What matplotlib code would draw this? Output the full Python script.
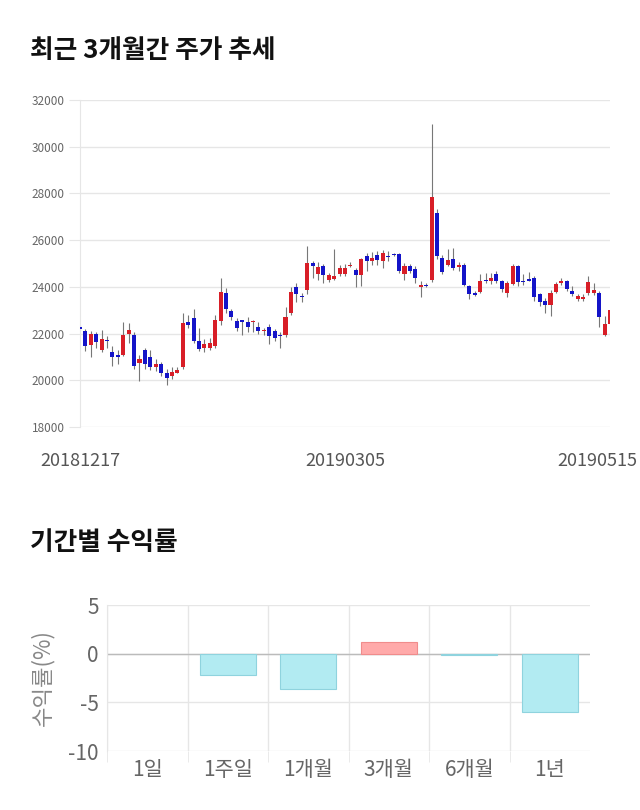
import matplotlib
matplotlib.use('Agg')
import matplotlib.pyplot as plt
import matplotlib.transforms as mtransforms
import numpy as np

plt.rcParams['font.family'] = ['Noto Sans CJK KR', 'DejaVu Sans']

# 일봉 데이터 (20181217 ~ 20190515)
opens = [22300, 22100, 21500, 22000, 21300, 21720, 21200, 21100, 21100, 22000,
         21950, 20750, 21300, 21000, 20550, 20700, 20300, 20200, 20330, 20580,
         22500, 22650, 21700, 21400, 21400, 21450, 22550, 23750, 22950, 22550,
         22560, 22500, 22500, 22300, 22100, 22300, 22100, 21950, 21950, 22900,
         24000, 23600, 23850, 25000, 24540, 24900, 24300, 24330, 24550, 24570,
         24880, 24740, 24500, 25300, 25100, 25360, 25120, 25320, 25420, 25420,
         24550, 24900, 24750, 24000, 24100, 24300, 27150, 25240, 24950, 25200,
         24850, 24950, 24050, 23740, 23790, 24300, 24240, 24550, 24240, 23740,
         24140, 24900, 24270, 24350, 24400, 23700, 23400, 23240, 23800, 24170,
         24250, 23810, 23500, 23500, 23740, 23740, 23740, 21930, 22430]
highs = [22350, 22200, 22100, 22050, 22150, 21900, 21450, 21300, 22500, 22450,
         22050, 21100, 21400, 21300, 20900, 20800, 20500, 20550, 20580, 22900,
         22800, 23050, 22250, 21750, 21800, 22800, 24400, 23950, 23050, 22650,
         22600, 22700, 22560, 22500, 22250, 22400, 22200, 22050, 23150, 24000,
         24150, 23750, 25750, 25100, 25050, 24990, 24600, 25600, 24950, 24990,
         25050, 24800, 25250, 25450, 25500, 25520, 25570, 25520, 25450, 25450,
         25020, 24980, 24880, 24250, 24170, 30960, 27320, 25380, 25600, 25670,
         25050, 25020, 24100, 23810, 24550, 24580, 24610, 24660, 24310, 24240,
         24990, 24940, 24540, 24620, 24450, 23740, 23510, 23880, 24220, 24380,
         24310, 24020, 23680, 23680, 24460, 24170, 23810, 22750, 23030]
lows = [22150, 21250, 21000, 21400, 21200, 21400, 20600, 20700, 21050, 21600,
        20500, 19950, 20500, 20450, 20400, 20200, 19800, 20050, 20300, 20480,
        22250, 21600, 21250, 21200, 21300, 21400, 22350, 22900, 22600, 22100,
        21950, 22050, 22050, 22000, 21950, 21550, 21700, 21400, 21850, 22800,
        23350, 23350, 23700, 24400, 24300, 24150, 24200, 24280, 24450, 24450,
        24830, 23990, 24030, 24700, 24950, 24950, 24820, 25100, 25300, 24600,
        24300, 24600, 24150, 23550, 23980, 24200, 25200, 24530, 24880, 24740,
        24670, 24030, 23500, 23600, 23750, 24160, 24140, 24160, 23800, 23570,
        24100, 24030, 24100, 24230, 23380, 23170, 22880, 22770, 23740, 24100,
        23810, 23600, 23400, 23400, 23670, 23670, 22260, 21880, 22400]
closes = [22200, 21450, 22000, 21650, 21750, 21700, 21000, 21000, 21950, 22150,
          20600, 20900, 20700, 20550, 20700, 20300, 20100, 20350, 20430, 22450,
          22350, 21700, 21350, 21550, 21600, 22600, 23800, 23050, 22700, 22250,
          22500, 22300, 22530, 22100, 22150, 21900, 21800, 21900, 22700, 23800,
          23700, 23550, 25000, 24900, 24870, 24500, 24500, 24450, 24800, 24800,
          24940, 24500, 25200, 25100, 25250, 25130, 25450, 25290, 25360, 24700,
          24880, 24700, 24380, 24100, 24030, 27850, 25300, 24640, 25170, 24810,
          24950, 24100, 23700, 23670, 24240, 24250, 24370, 24240, 23910, 24160,
          24900, 24210, 24210, 24270, 23550, 23360, 23240, 23740, 24110, 24250,
          23910, 23700, 23620, 23560, 24220, 23860, 22700, 22430, 23000]
date_ticks = ['20181217', '20190305', '20190515']
date_tick_idx = [0, 49, 98]

# 기간별 수익률
periods = ['1일', '1주일', '1개월', '3개월', '6개월', '1년']
returns = [0.0, -2.2, -3.6, 1.25, -0.1, -5.95]

RED = '#d81e27'
BLUE = '#1414c8'
GRID = '#e6e6e6'
TXT = '#666666'

fig = plt.figure(figsize=(6.4, 8.1), dpi=100)

# ---- 주가 추세 (캔들)
ax = fig.add_axes([80/640, 1-427/810, 530/640, 327/810])
o = np.array(opens); h = np.array(highs); l = np.array(lows); c = np.array(closes)
x = np.arange(len(o))
up = c >= o
col = np.where(up, RED, BLUE)
ax.vlines(x, l, h, color='#777777', linewidth=0.8, zorder=2)
ax.bar(x, np.maximum(np.abs(c - o), 25), bottom=np.minimum(o, c), width=0.75,
       color=col, linewidth=0, zorder=3)
ax.set_xlim(0, len(o) - 1)
ax.set_ylim(18000, 32000)
ax.set_yticks(np.arange(18000, 32001, 2000))
ax.yaxis.grid(True, color=GRID, linewidth=1)
ax.set_axisbelow(True)
for s in ['top', 'right', 'bottom']:
    ax.spines[s].set_visible(False)
ax.spines['left'].set_color(GRID)
ax.tick_params(axis='y', length=8, color=GRID, labelsize=8.5, labelcolor=TXT, pad=3)
ax.set_xticks(date_tick_idx)
ax.set_xticklabels(date_ticks)
ax.tick_params(axis='x', length=0, labelsize=13, labelcolor='#555555', pad=18)
last = ax.get_xticklabels()[-1]
last.set_transform(last.get_transform() + mtransforms.ScaledTranslation(-13/100, 0, fig.dpi_scale_trans))

fig.text(30/640, 1-51/810, '최근 3개월간 주가 추세', fontsize=18.5, fontweight='bold',
         va='center', ha='left', color='#111111')
fig.text(30/640, 1-543/810, '기간별 수익률', fontsize=18.5, fontweight='bold',
         va='center', ha='left', color='#111111')

# ---- 기간별 수익률 (막대)
bx = fig.add_axes([107/640, 1-751/810, 483/640, 146/810])
bcol = ['#ffaaaa' if r > 0 else '#b2ebf2' for r in returns]
ecol = ['none' if r == 0 else ('#f08c8c' if r > 0 else '#8fd3de') for r in returns]
bx.bar(np.arange(len(periods)), returns, width=0.7, color=bcol, edgecolor=ecol,
       linewidth=0.8, zorder=3)
bx.set_xlim(-0.5, len(periods) - 0.5)
bx.set_ylim(-10, 5)
bx.set_yticks([5, 0, -5, -10])
bx.set_yticklabels(['5', '0', '-5', '-10'])
bx.set_xticks(np.arange(len(periods)))
bx.set_xticklabels(periods)
bx.set_xticks(np.arange(len(periods)) - 0.5, minor=True)
bx.xaxis.grid(True, which='minor', color=GRID, linewidth=1)
bx.yaxis.grid(True, color=GRID, linewidth=1)
bx.axhline(0, color='#bbbbbb', linewidth=1, zorder=2)
bx.set_axisbelow(True)
for s in ['top', 'right', 'bottom']:
    bx.spines[s].set_visible(False)
bx.spines['left'].set_color(GRID)
bx.tick_params(axis='y', length=0, labelsize=15, labelcolor=TXT, pad=6)
bx.tick_params(axis='x', which='major', length=0, labelsize=15, labelcolor=TXT, pad=6)
bx.tick_params(axis='x', which='minor', length=8, color=GRID)
bx.set_ylabel('수익률(%)', fontsize=16, color='#888888', labelpad=10)

fig.savefig('out.png', dpi=100, facecolor='white')
